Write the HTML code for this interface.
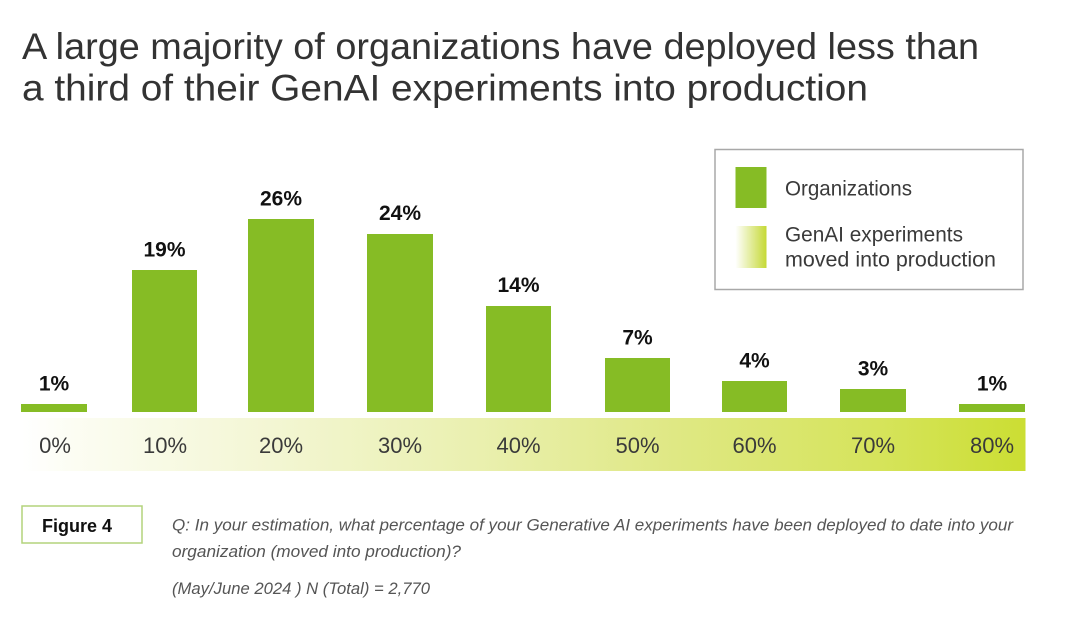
<!DOCTYPE html>
<html>
<head>
<meta charset="utf-8">
<style>
  html,body{margin:0;padding:0;background:#fff;}
  svg{display:block;}
  text{font-family:"Liberation Sans", sans-serif;}
</style>
</head>
<body>
<svg width="1080" height="627" viewBox="0 0 1080 627" xmlns="http://www.w3.org/2000/svg">
  <defs>
    <linearGradient id="band" x1="0" y1="0" x2="1" y2="0">
      <stop offset="0" stop-color="#ffffff"/>
      <stop offset="0.05" stop-color="#fcfdf3"/>
      <stop offset="0.25" stop-color="#f3f6d3"/>
      <stop offset="0.45" stop-color="#eaf0b0"/>
      <stop offset="0.65" stop-color="#dfe884"/>
      <stop offset="0.85" stop-color="#d6e45c"/>
      <stop offset="1" stop-color="#cbde33"/>
    </linearGradient>
    <linearGradient id="sw" x1="0" y1="0" x2="1" y2="0">
      <stop offset="0" stop-color="#ffffff"/>
      <stop offset="1" stop-color="#c5d935"/>
    </linearGradient>
  </defs>

  <!-- Title -->
  <text x="22" y="59" font-size="37" fill="#333" textLength="957" lengthAdjust="spacingAndGlyphs">A large majority of organizations have deployed less than</text>
  <text x="22" y="100.5" font-size="37" fill="#333" textLength="846" lengthAdjust="spacingAndGlyphs">a third of their GenAI experiments into production</text>

  <!-- Legend -->
  <rect x="715" y="149.5" width="308" height="140" fill="#fff" stroke="#a8a8a8" stroke-width="1.5"/>
  <rect x="735.5" y="167" width="31" height="41" fill="#86bc25"/>
  <rect x="735.5" y="226" width="31" height="42" fill="url(#sw)"/>
  <text x="785" y="195.5" font-size="21" fill="#3a3a3a" textLength="127" lengthAdjust="spacingAndGlyphs">Organizations</text>
  <text x="785" y="241.5" font-size="21" fill="#3a3a3a" textLength="178" lengthAdjust="spacingAndGlyphs">GenAI experiments</text>
  <text x="785" y="266.5" font-size="21" fill="#3a3a3a" textLength="211" lengthAdjust="spacingAndGlyphs">moved into production</text>

  <!-- Band -->
  <rect x="22" y="418" width="1003.5" height="53" fill="url(#band)"/>

  <!-- Bars -->
  <g fill="#86bc25">
    <rect x="21" y="404" width="66" height="8"/>
    <rect x="132" y="270" width="65" height="142"/>
    <rect x="248" y="219" width="66" height="193"/>
    <rect x="367" y="234" width="66" height="178"/>
    <rect x="486" y="306" width="65" height="106"/>
    <rect x="605" y="358" width="65" height="54"/>
    <rect x="722" y="381" width="65" height="31"/>
    <rect x="840" y="389" width="66" height="23"/>
    <rect x="959" y="404" width="66" height="8"/>
  </g>

  <!-- Value labels -->
  <g font-size="21" font-weight="bold" fill="#111" text-anchor="middle">
    <text x="54" y="390.5">1%</text>
    <text x="164.5" y="256.5">19%</text>
    <text x="281" y="205.5">26%</text>
    <text x="400" y="220">24%</text>
    <text x="518.5" y="292">14%</text>
    <text x="637.5" y="344.5">7%</text>
    <text x="754.5" y="367.5">4%</text>
    <text x="873" y="375.5">3%</text>
    <text x="992" y="390.5">1%</text>
  </g>

  <!-- Axis labels -->
  <g font-size="22" fill="#3a3a3a" text-anchor="middle">
    <text x="55" y="453">0%</text>
    <text x="165" y="453">10%</text>
    <text x="281" y="453">20%</text>
    <text x="400" y="453">30%</text>
    <text x="518.5" y="453">40%</text>
    <text x="637.5" y="453">50%</text>
    <text x="754.5" y="453">60%</text>
    <text x="873" y="453">70%</text>
    <text x="992" y="453">80%</text>
  </g>

  <!-- Figure box -->
  <rect x="22" y="506" width="120" height="37" fill="#fff" stroke="#b3d37c" stroke-width="1.5"/>
  <text x="77" y="532" font-size="18" font-weight="bold" fill="#111" text-anchor="middle">Figure 4</text>

  <!-- Question text -->
  <g font-size="17" font-style="italic" fill="#555">
    <text x="172" y="530.5" textLength="841" lengthAdjust="spacingAndGlyphs">Q: In your estimation, what percentage of your Generative AI experiments have been deployed to date into your</text>
    <text x="172" y="557" textLength="289" lengthAdjust="spacingAndGlyphs">organization (moved into production)?</text>
    <text x="172" y="594" textLength="258" lengthAdjust="spacingAndGlyphs">(May/June 2024 ) N (Total) = 2,770</text>
  </g>
</svg>
</body>
</html>
